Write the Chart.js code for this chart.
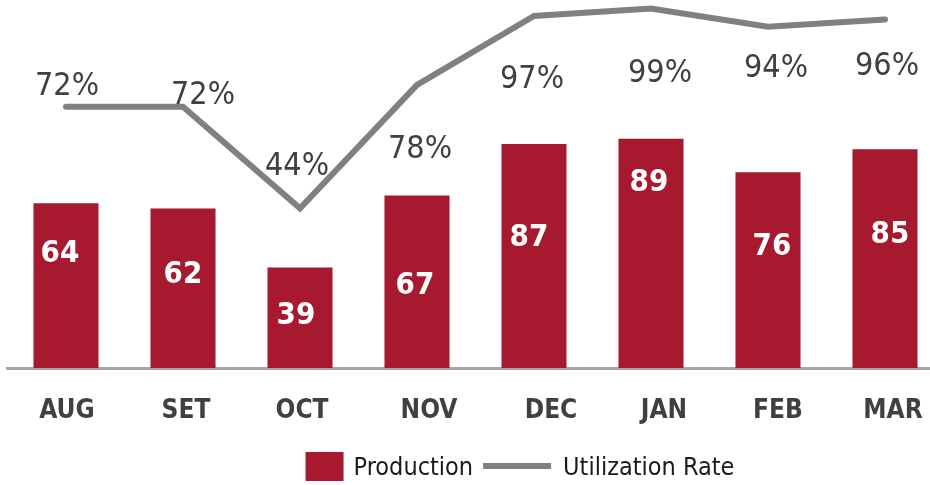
<!DOCTYPE html>
<html>
<head>
<meta charset="utf-8">
<script src="https://cdn.jsdelivr.net/npm/chart.js@4"></script>
<style>
  html, body { margin: 0; padding: 0; background: #fff; overflow: hidden; }
</style>
</head>
<body>
<canvas id="chart" width="945" height="485"></canvas>
<script>
// Data
const months = ['AUG', 'SET', 'OCT', 'NOV', 'DEC', 'JAN', 'FEB', 'MAR'];
const production = [64, 62, 39, 67, 87, 89, 76, 85];
const utilization = [72, 72, 44, 78, 97, 99, 94, 96];

// Label nudges in px (the labels in the source were placed by hand)
const barLabelNudge = [[-6, 47], [0, 63], [-4, 45], [-2, 87], [-5, 91], [-2, 41], [4, 71], [5, 83]];
const rateLabelNudge = [[1, -23], [20, -14], [-3, -45], [3, 61], [-2, 60], [9, 62], [8, 39], [2, 44]];
const monthLabelNudge = [1, 3, 2, 12, 17, 13, 10, 8];

const RED = '#A6192E';
const GRAY = '#808080';
const TEXT = '#404040';
const FONT = '"DejaVu Sans Condensed", "DejaVu Sans", sans-serif';

// draws text centred on (x, y) using the cap height instead of the em box
function capText(ctx, str, x, y, size) {
    ctx.fillText(str, x, y + size * 0.365);
}

const labelsPlugin = {
    id: 'labels',
    afterDatasetsDraw(chart) {
        const ctx = chart.ctx;
        const bars = chart.getDatasetMeta(0).data;
        const pts = chart.getDatasetMeta(1).data;
        ctx.save();
        ctx.textAlign = 'center';
        ctx.textBaseline = 'alphabetic';

        ctx.fillStyle = '#fff';
        ctx.font = 'bold 31px ' + FONT;
        bars.forEach((bar, i) => {
            capText(ctx, String(production[i]), bar.x + barLabelNudge[i][0], bar.y + barLabelNudge[i][1], 31);
        });

        ctx.fillStyle = TEXT;
        ctx.font = '32px ' + FONT;
        pts.forEach((pt, i) => {
            capText(ctx, utilization[i] + '%', pt.x + rateLabelNudge[i][0], pt.y + rateLabelNudge[i][1], 32);
        });

        // month names under the axis
        const xs = chart.scales.x;
        ctx.font = 'bold 26px ' + FONT;
        months.forEach((m, i) => {
            capText(ctx, m, xs.getPixelForValue(i) + monthLabelNudge[i], chart.chartArea.bottom + 41, 26);
        });
        ctx.restore();
    }
};

const legendPlugin = {
    id: 'legendRow',
    afterDraw(chart) {
        const ctx = chart.ctx;
        const sets = chart.data.datasets;
        const cy = 466;
        ctx.save();
        ctx.font = '25px ' + FONT;
        const w0 = ctx.measureText(sets[0].label).width;
        const w1 = ctx.measureText(sets[1].label).width;
        const total = 38 + 10 + w0 + 10 + 68 + 12 + w1;
        let x = 520 - total / 2;

        ctx.fillStyle = RED;
        ctx.fillRect(x, cy - 14, 38, 29);
        x += 48;
        ctx.fillStyle = '#1a1a1a';
        ctx.textBaseline = 'alphabetic';
        capText(ctx, sets[0].label, x, cy, 25);
        x += w0 + 10;

        ctx.strokeStyle = GRAY;
        ctx.lineWidth = 6;
        ctx.beginPath();
        ctx.moveTo(x, cy);
        ctx.lineTo(x + 68, cy);
        ctx.stroke();
        x += 80;
        capText(ctx, sets[1].label, x, cy, 25);
        ctx.restore();
    }
};

new Chart(document.getElementById('chart'), {
    data: {
        labels: months,
        datasets: [
            {
                type: 'bar',
                label: 'Production',
                data: production,
                backgroundColor: RED,
                barPercentage: 0.556,
                categoryPercentage: 1,
                yAxisID: 'y',
                order: 2
            },
            {
                type: 'line',
                label: 'Utilization Rate',
                data: utilization,
                borderColor: GRAY,
                borderWidth: 6,
                borderCapStyle: 'round',
                pointRadius: 0,
                tension: 0,
                clip: false,
                yAxisID: 'y2',
                order: 1
            }
        ]
    },
    options: {
        responsive: false,
        animation: false,
        layout: { padding: { left: 7.5, right: 1.5, top: 5, bottom: 117 } },
        plugins: {
            legend: { display: false },
            tooltip: { enabled: false }
        },
        scales: {
            x: {
                grid: { display: false, drawTicks: false },
                ticks: { display: false },
                border: { display: true, color: '#A6A6A6', width: 3 }
            },
            y: { display: false, min: 0, max: 141 },
            y2: { display: false, min: 0, max: 100 }
        }
    },
    plugins: [labelsPlugin, legendPlugin]
});
</script>
</body>
</html>
